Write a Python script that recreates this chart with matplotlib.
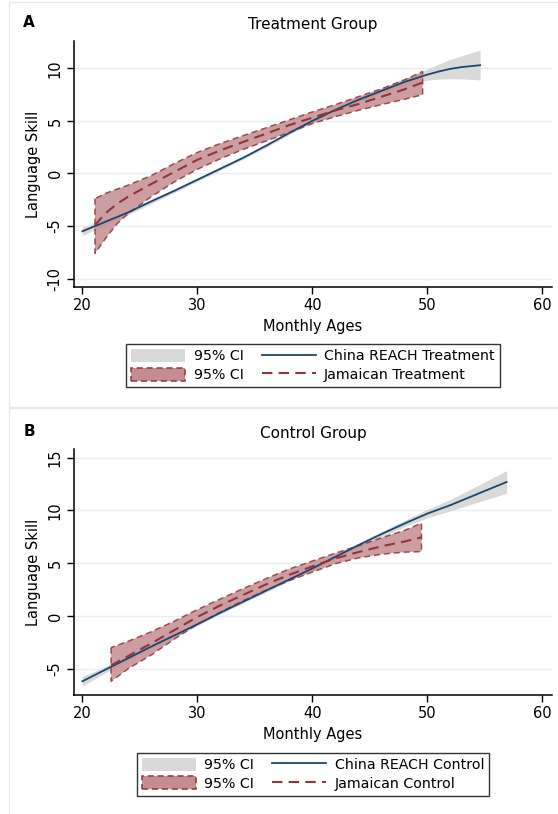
import matplotlib
matplotlib.use("Agg")
import matplotlib.pyplot as plt
from matplotlib.patches import Patch, Rectangle
from matplotlib.lines import Line2D

# ---- data ----
# Panel A: Treatment group
china_t_age = [20.0, 22, 24, 26, 28, 30, 32, 34, 36, 38, 40, 42, 44, 46, 48, 49, 50, 51, 52, 53, 54.6]
china_t_mean = [-5.5, -4.6, -3.7, -2.65, -1.65, -0.6, 0.45, 1.5, 2.65, 3.85, 5.0, 6.05, 7.0, 7.85, 8.7, 9.05, 9.4, 9.7, 9.95, 10.12, 10.3]
china_t_lo = [-5.9, -4.9, -3.93, -2.87, -1.81, -0.75, 0.3, 1.35, 2.5, 3.7, 4.85, 5.88, 6.8, 7.6, 8.35, 8.65, 8.88, 8.98, 9.02, 9.0, 8.9]
china_t_hi = [-5.1, -4.3, -3.47, -2.43, -1.49, -0.45, 0.6, 1.65, 2.8, 4.0, 5.15, 6.22, 7.2, 8.1, 9.05, 9.45, 9.92, 10.4, 10.85, 11.2, 11.74]

jam_t_age = [21.1, 22, 23, 24, 25, 26, 28, 30, 32, 34, 36, 38, 40, 42, 44, 46, 48, 49.6]
jam_t_mean = [-4.9, -3.8, -2.9, -2.2, -1.6, -1.0, 0.15, 1.3, 2.2, 3.0, 3.8, 4.6, 5.3, 6.0, 6.6, 7.3, 8.0, 8.65]
jam_t_lo = [-7.6, -6.2, -4.8, -3.8, -3.0, -2.2, -0.8, 0.4, 1.4, 2.3, 3.1, 3.9, 4.75, 5.4, 6.0, 6.55, 7.05, 7.5]
jam_t_hi = [-2.4, -1.9, -1.5, -1.1, -0.65, -0.2, 0.95, 2.0, 2.85, 3.6, 4.35, 5.1, 5.85, 6.55, 7.3, 8.05, 8.9, 9.7]

# Panel B: Control group
china_c_age = [20.0, 22, 24, 26, 28, 30, 32, 34, 36, 38, 40, 42, 44, 46, 48, 50, 52, 54, 56.9]
china_c_mean = [-6.2, -5.1, -4.0, -2.9, -1.85, -0.8, 0.3, 1.35, 2.4, 3.45, 4.5, 5.6, 6.7, 7.75, 8.75, 9.7, 10.5, 11.4, 12.7]
china_c_lo = [-6.65, -5.4, -4.22, -3.08, -2.0, -0.92, 0.18, 1.22, 2.26, 3.3, 4.35, 5.43, 6.5, 7.5, 8.45, 9.3, 9.95, 10.65, 11.63]
china_c_hi = [-5.75, -4.8, -3.78, -2.72, -1.7, -0.68, 0.42, 1.48, 2.54, 3.6, 4.65, 5.77, 6.9, 8.0, 9.05, 10.1, 11.05, 12.15, 13.78]

jam_c_age = [22.5, 24, 26, 28, 30, 32, 34, 36, 38, 40, 42, 44, 46, 48, 49.5]
jam_c_mean = [-4.7, -3.8, -2.6, -1.35, -0.1, 1.0, 2.0, 3.0, 3.9, 4.7, 5.45, 6.05, 6.6, 7.05, 7.45]
jam_c_lo = [-6.2, -5.0, -3.7, -2.2, -0.8, 0.35, 1.45, 2.45, 3.35, 4.15, 4.95, 5.5, 5.85, 6.05, 6.1]
jam_c_hi = [-3.0, -2.4, -1.5, -0.5, 0.6, 1.6, 2.6, 3.55, 4.45, 5.2, 5.95, 6.65, 7.4, 8.1, 8.8]

x_ticks = [20, 30, 40, 50, 60]
y_ticks_a = [-10, -5, 0, 5, 10]
y_ticks_b = [-5, 0, 5, 10, 15]

navy = "#1a476f"
maroon = "#90353b"
red_fill = "#c58d91"
gray_fill = "#d9d9d9"
grid_col = "#e6eff1"

plt.rcParams["font.family"] = "DejaVu Sans"

fig = plt.figure(figsize=(5.58, 8.14), dpi=100)

# light panel outlines (like the Stata graph regions)
fig.patches.append(Rectangle((8.9 / 558, 1 - 406.7 / 814), 1.0, 405 / 814,
                             transform=fig.transFigure, fill=False,
                             edgecolor="#e3eaee", linewidth=1.0))
fig.patches.append(Rectangle((8.9 / 558, -0.01), 1.0, 1 - 407.7 / 814 + 0.01,
                             transform=fig.transFigure, fill=False,
                             edgecolor="#e3eaee", linewidth=1.0))

ax_a = fig.add_axes([0.1321, 0.6474, 0.8571, 0.3022])
ax_b = fig.add_axes([0.1321, 0.1462, 0.8571, 0.3018])


def draw_panel(ax, c_age, c_mean, c_lo, c_hi, j_age, j_mean, j_lo, j_hi, yticks, ylim):
    ax.fill_between(c_age, c_lo, c_hi, color=gray_fill, linewidth=0, zorder=2)
    ax.fill_between(j_age, j_lo, j_hi, facecolor=red_fill, alpha=0.85,
                    edgecolor=maroon, linestyle=(0, (4, 2.5)), linewidth=1.1, zorder=3)
    ax.plot(c_age, c_mean, color=navy, linewidth=1.3, zorder=4)
    ax.plot(j_age, j_mean, color=maroon, linewidth=1.5, linestyle=(0, (5, 3)), zorder=5)

    ax.set_xlim(19.25, 60.85)
    ax.set_ylim(*ylim)
    ax.set_xticks(x_ticks)
    ax.set_yticks(yticks)
    ax.set_yticklabels([str(t) for t in yticks], rotation=90, va="center")
    ax.grid(axis="y", color=grid_col, linewidth=1.0, zorder=0)
    ax.set_axisbelow(True)
    for side in ["top", "right"]:
        ax.spines[side].set_visible(False)
    for side in ["left", "bottom"]:
        ax.spines[side].set_linewidth(1.1)
    ax.tick_params(axis="both", direction="out", length=5, width=1.0, labelsize=10.5, pad=3)
    ax.set_xlabel("Monthly Ages", fontsize=10.5, labelpad=4)
    ax.set_ylabel("Language Skill", fontsize=10.5, labelpad=5)


draw_panel(ax_a, china_t_age, china_t_mean, china_t_lo, china_t_hi,
           jam_t_age, jam_t_mean, jam_t_lo, jam_t_hi, y_ticks_a, (-10.8, 12.6))
draw_panel(ax_b, china_c_age, china_c_mean, china_c_lo, china_c_hi,
           jam_c_age, jam_c_mean, jam_c_lo, jam_c_hi, y_ticks_b, (-7.5, 15.8))

fig.text(29 / 558, 1 - 22.7 / 814, "A", fontsize=11, fontweight="bold", ha="center", va="center")
fig.text(313 / 558, 1 - 24.3 / 814, "Treatment Group", fontsize=11, ha="center", va="center")
fig.text(29 / 558, 1 - 431 / 814, "B", fontsize=11, fontweight="bold", ha="center", va="center")
fig.text(313 / 558, 1 - 433.3 / 814, "Control Group", fontsize=11, ha="center", va="center")


def make_legend(labels, center):
    handles = [
        Patch(facecolor=gray_fill, edgecolor="none"),
        Patch(facecolor=red_fill, edgecolor=maroon, linestyle=(0, (4, 2.5)), linewidth=1.1),
        Line2D([], [], color=navy, linewidth=1.3),
        Line2D([], [], color=maroon, linewidth=1.5, linestyle=(0, (5, 3))),
    ]
    leg = fig.legend(handles, labels, loc="center", bbox_to_anchor=center, ncol=2,
                     fontsize=10.2, frameon=True, fancybox=False, edgecolor="black",
                     handlelength=3.8, handleheight=1.05, handletextpad=0.6,
                     columnspacing=1.3, borderpad=0.35, labelspacing=0.3)
    leg.get_frame().set_linewidth(1.0)
    return leg


make_legend(["95% CI", "95% CI", "China REACH Treatment", "Jamaican Treatment"],
            (313 / 558, 1 - 365.5 / 814))
make_legend(["95% CI", "95% CI", "China REACH Control", "Jamaican Control"],
            (313 / 558, 1 - 774.2 / 814))

fig.savefig("out.png", dpi=100)
